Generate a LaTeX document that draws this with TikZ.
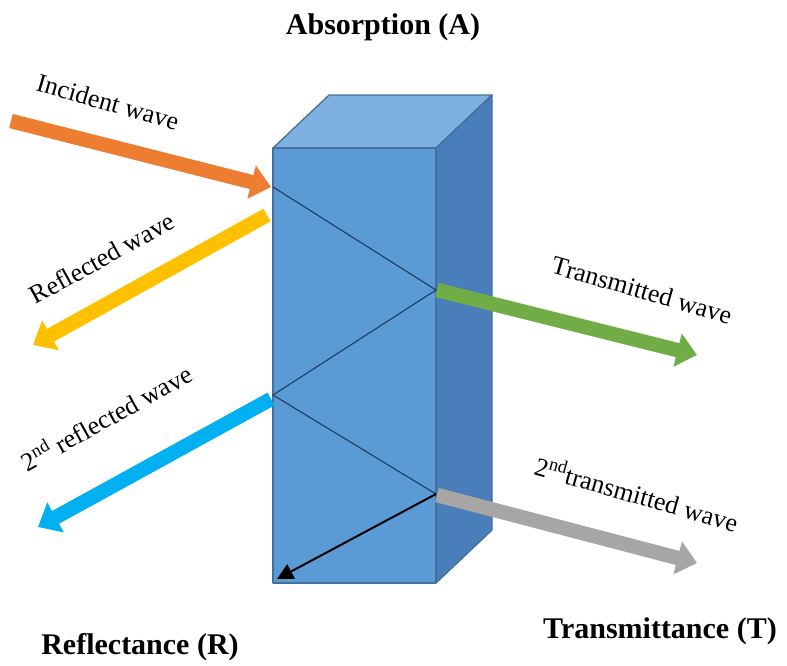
\documentclass[tikz,border=0pt]{standalone}
\usepackage{fontspec}
\setmainfont{Liberation Serif}
\usetikzlibrary{arrows.meta}

\definecolor{frontblue}{HTML}{5B9BD5}
\definecolor{topblue}{HTML}{7EB1E1}
\definecolor{sideblue}{HTML}{4A7EBB}
\definecolor{edgeblue}{HTML}{41719C}
\definecolor{pathnavy}{HTML}{203864}
\definecolor{incorange}{HTML}{ED7D31}
\definecolor{refyellow}{HTML}{FFC000}
\definecolor{transgreen}{HTML}{70AD47}
\definecolor{refcyan}{HTML}{00B0F0}
\definecolor{transgray}{HTML}{A8A6A4}

\tikzset{
  face/.style={draw=edgeblue, line width=1.3pt, line join=round},
  wave/.style={line width=14.5pt, -{Triangle[length=20pt,width=33pt]}},
  zig/.style={draw=pathnavy, line width=1.1pt},
  wavelabel/.style={font=\fontsize{26}{30}\selectfont, inner sep=0pt},
  heading/.style={font=\fontsize{30}{34}\selectfont\bfseries, inner sep=0pt},
}

\begin{document}
\begin{tikzpicture}[x=1pt, y=-1pt]
  \useasboundingbox (0,0) rectangle (787,665);

  % slab corners
  \coordinate (ftl) at (273,148);
  \coordinate (ftr) at (436,148);
  \coordinate (fbl) at (273,583);
  \coordinate (fbr) at (436,583);
  \coordinate (btl) at (329,95);
  \coordinate (btr) at (492,95);
  \coordinate (bbr) at (492,530);

  % slab faces
  \fill[frontblue] (ftl) -- (ftr) -- (fbr) -- (fbl) -- cycle;
  \fill[topblue] (ftl) -- (btl) -- (btr) -- (ftr) -- cycle;
  \fill[sideblue] (ftr) -- (btr) -- (bbr) -- (fbr) -- cycle;
  \draw[face] (ftl) -- (btl) -- (btr) -- (ftr) -- cycle;
  \draw[face] (ftr) -- (btr) -- (bbr) -- (fbr);
  \draw[face] (ftl) -- (ftr) -- (fbr) -- (fbl) -- cycle;

  % bounce points inside the slab
  \coordinate (l1) at (273,187);
  \coordinate (r1) at (436,290);
  \coordinate (l2) at (273,395);
  \coordinate (r2) at (436,494);
  \coordinate (absorbed) at (277,579);

  \draw[zig] (l1) -- (r1) -- (l2) -- (r2);
  \draw[black, line width=2pt, -{Triangle[length=16pt,width=16pt]}] (r2) -- (absorbed);

  % wave ends
  \coordinate (incstart) at (11,121);
  \coordinate (incend) at (271,187);
  \coordinate (refstart) at (267,215);
  \coordinate (refend) at (33,345);
  \coordinate (transstart) at (437,290);
  \coordinate (transend) at (697,355);
  \coordinate (ref2start) at (271,399);
  \coordinate (ref2end) at (38,527);
  \coordinate (trans2start) at (437,495);
  \coordinate (trans2end) at (697,563);

  % waves
  \draw[wave, incorange] (incstart) -- (incend);
  \draw[wave, refyellow] (refstart) -- (refend);
  \draw[wave, transgreen] (transstart) -- (transend);
  \draw[wave, refcyan] (ref2start) -- (ref2end);
  \draw[wave, transgray] (trans2start) -- (trans2end);

  % wave labels
  \node[wavelabel, rotate=-16] (inclabel) at (108,102) {Incident wave};
  \node[wavelabel, rotate=29] (reflabel) at (102,258) {Reflected wave};
  \node[wavelabel, rotate=-16] (translabel) at (642,290) {Transmitted wave};
  \node[wavelabel, rotate=29] (ref2label) at (106,417) {2\textsuperscript{nd} reflected wave};
  \node[wavelabel, rotate=-16] (trans2label) at (637,493) {2\textsuperscript{nd}transmitted wave};

  % headings
  \node[heading] (absorption) at (383,27) {Absorption (A)};
  \node[heading] (reflectance) at (140,647) {Reflectance (R)};
  \node[heading] (transmittance) at (660,631) {Transmittance (T)};
\end{tikzpicture}
\end{document}
